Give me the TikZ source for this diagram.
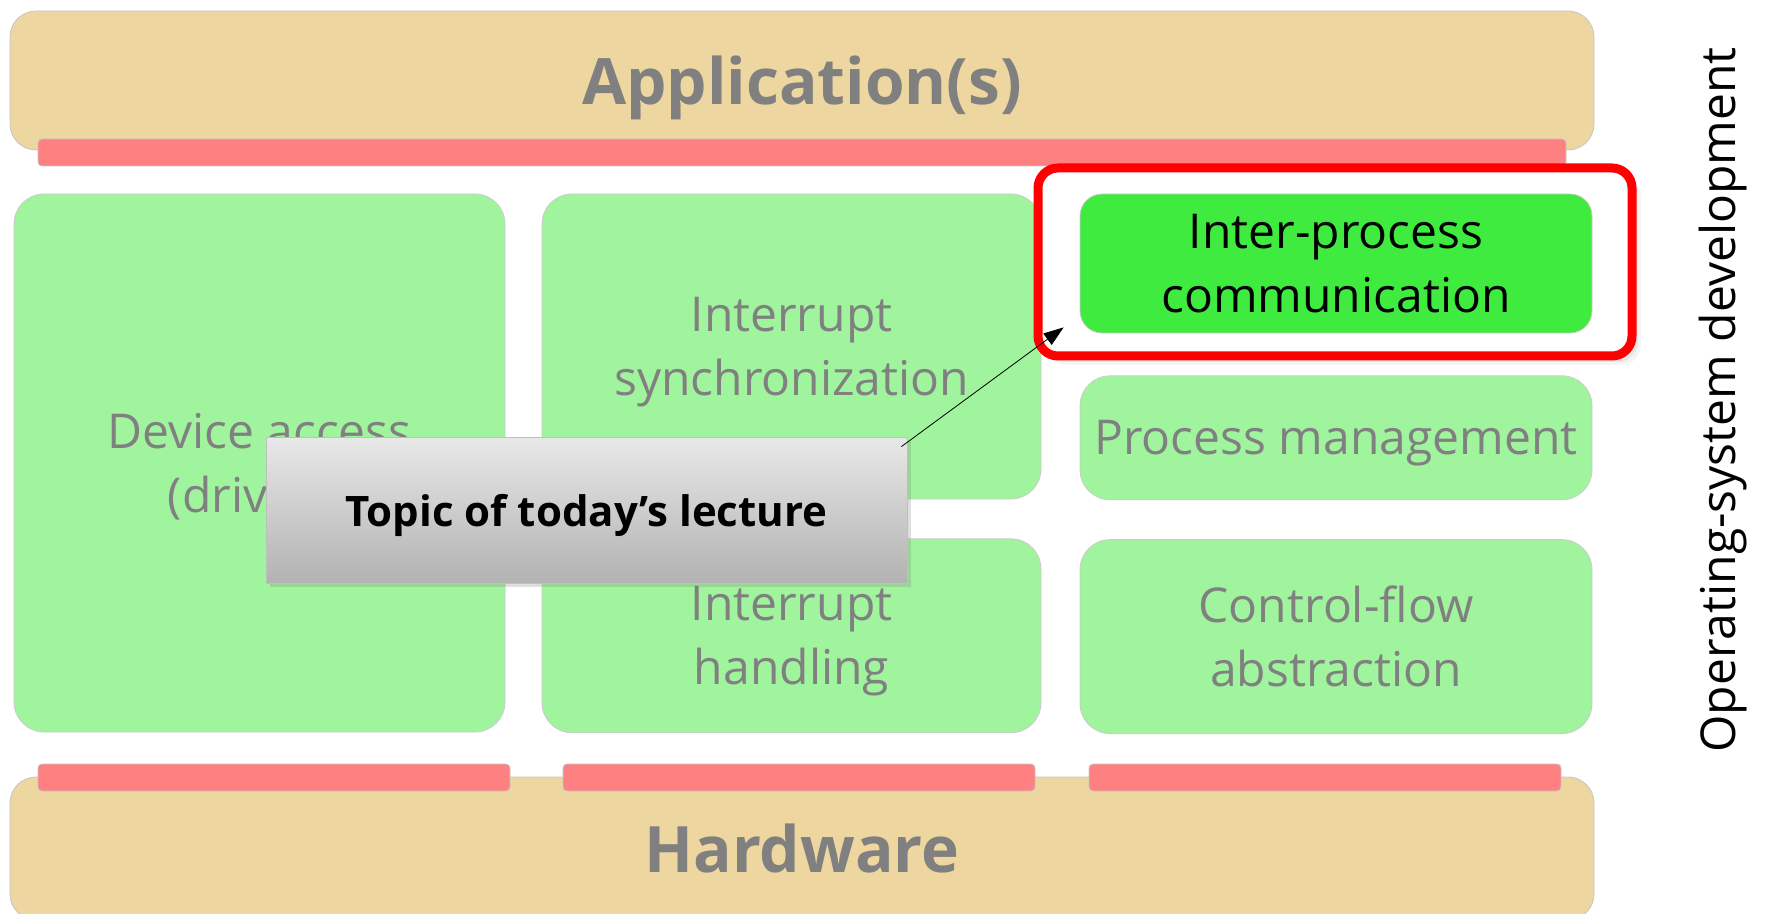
\documentclass[tikz,border=0pt]{standalone}
\usepackage{fontspec}
\setmainfont{Open Sans}
\usepackage{tikz}
\usetikzlibrary{arrows.meta,positioning,shadows}
\definecolor{sand}{HTML}{EDD6A0}
\definecolor{palegreen}{HTML}{A0F49D}
\definecolor{barred}{HTML}{FF8080}
\definecolor{ipcgreen}{HTML}{3FEB3F}
\definecolor{labelgray}{HTML}{808080}
\tikzset{
  layer/.style={draw=gray!45, fill=sand, rounded corners=13pt, minimum width=792pt, text depth=0pt, font=\fontsize{32}{38}\selectfont\bfseries, text=labelgray}, % Application / hardware
  api/.style={draw=gray!45, fill=barred, rounded corners=2pt, minimum height=13.5pt}, % interface bars
  component/.style={draw=gray!40, fill=palegreen, rounded corners=15pt, align=center, text depth=-5pt, font=\fontsize{24}{32}\selectfont, text=labelgray},
  highlight/.style={component, fill=ipcgreen, text=black, rounded corners=11pt},
  focus/.style={draw=red, line width=4.5pt, fill=white, rounded corners=10pt, minimum width=297pt, minimum height=94pt,
    drop shadow={shadow xshift=4.5pt, shadow yshift=-4.5pt, opacity=.08},
    drop shadow={shadow xshift=3pt, shadow yshift=-3pt, opacity=.12},
    drop shadow={shadow xshift=1.5pt, shadow yshift=-1.5pt, opacity=.15}},
  callout/.style={draw=gray!50, top color=gray!18, bottom color=gray!60, minimum width=320.5pt, minimum height=73pt, text depth=0pt, font=\fontsize{21}{26}\selectfont\bfseries, drop shadow={shadow xshift=2pt, shadow yshift=-2pt, opacity=.25}},
  pointer/.style={-{Triangle[length=10pt,width=7pt]}, thin}
}
\begin{document}
\begin{tikzpicture}[x=0.5pt,y=-0.5pt]
    \useasboundingbox (0,0) rectangle (1766,914);

    % Layers
    \node[layer, minimum height=69.5pt] (app) at (802,80.5) {Application(s)};
    \node[api, minimum width=764pt] (appbar) at (802,152.5) {};
    \node[layer, minimum height=71.5pt] (hw) at (802,848.5) {Hardware};
    \node[api, minimum width=236pt] (hwbar1) at (274,777.5) {};
    \node[api, minimum width=236pt] (hwbar2) at (799,777.5) {};
    \node[api, minimum width=236pt] (hwbar3) at (1325,777.5) {};

    % Components
    \node[component, minimum width=245.5pt, minimum height=269pt] (dev) at (259.5,463) {Device access\\(drivers)};
    \node[component, minimum width=249.5pt, minimum height=152.5pt] (isync) at (791.5,346.5) {Interrupt\\synchronization};
    \node[component, minimum width=249.5pt, minimum height=97pt] (ihand) [below=19.5pt of isync] {Interrupt\\handling};

    % Highlighted topic
    \node[focus] (frame) at (1335,262) {};
    \node[highlight, minimum width=256pt, minimum height=69.5pt] (ipc) at (1336,263.5) {Inter-process\\communication};
    \node[component, minimum width=256pt, minimum height=62pt] (proc) [below=21pt of ipc] {Process management};
    \node[component, minimum width=256pt, minimum height=97pt] (cflow) [below=19.5pt of proc] {Control-flow\\abstraction};

    % Callout
    \node[callout] (topic) at (586.5,510) {Topic of today’s lecture};
    \draw[pointer] ([xshift=-3pt,yshift=-5pt]topic.north east) -- ([xshift=-8pt,yshift=3pt]ipc.south west);

    % Side label
    \node[rotate=90, font=\fontsize{24}{30}\selectfont] (osdev) at (1723,400) {Operating-system development};
\end{tikzpicture}
\end{document}
